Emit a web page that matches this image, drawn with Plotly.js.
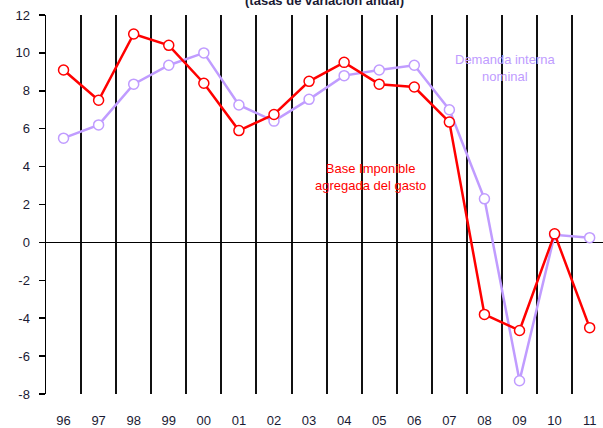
<!DOCTYPE html>
<html>
<head>
<meta charset="utf-8">
<script src="https://cdn.plot.ly/plotly-3.0.1.min.js"></script>
<style>html,body{margin:0;padding:0;overflow:hidden;background:#fff;}</style>
</head>
<body>
<div id="chart" style="width:603px;height:428px;"></div>
<script>
const years = ["96","97","98","99","00","01","02","03","04","05","06","07","08","09","10","11"];
const baseImponible = [9.1, 7.5, 11.0, 10.4, 8.4, 5.9, 6.75, 8.5, 9.5, 8.35, 8.2, 6.35, -3.8, -4.65, 0.45, -4.5];
const demandaInterna = [5.5, 6.2, 8.35, 9.35, 10.0, 7.25, 6.4, 7.55, 8.8, 9.1, 9.35, 7.0, 2.3, -7.3, 0.4, 0.25];
const yTickVals = [-8, -6, -4, -2, 0, 2, 4, 6, 8, 10, 12];
const yTickText = ["-8", "-6", "-4", "-2", "0", "2", "4", "6", "8", "10", "12"];

const idx = years.map((_, i) => i);
const bounds = years.slice(1).map((_, i) => i + 0.5);

const traces = [
  {
    x: idx, y: demandaInterna, type: 'scatter', mode: 'lines+markers',
    name: 'Demanda interna nominal',
    line: {color: '#c09cff', width: 2.5},
    marker: {symbol: 'circle', size: 10, color: '#ffffff', line: {color: '#c09cff', width: 1.5}},
    cliponaxis: false
  },
  {
    x: idx, y: baseImponible, type: 'scatter', mode: 'lines+markers',
    name: 'Base Imponible agregada del gasto',
    line: {color: '#ff0000', width: 2.5},
    marker: {symbol: 'circle', size: 10, color: '#ffffff', line: {color: '#ff0000', width: 1.5}},
    cliponaxis: false
  }
];

const layout = {
  width: 603, height: 428,
  margin: {l: 46, r: 0, t: 15, b: 34},
  paper_bgcolor: '#ffffff', plot_bgcolor: '#ffffff',
  showlegend: false,
  font: {family: 'Liberation Sans, Arial, sans-serif', size: 13, color: '#1a1a33'},
  title: {
    text: '<b>(tasas de variación anual)</b>',
    x: 0.5, xref: 'paper', xanchor: 'center',
    y: 0.988, yref: 'container', yanchor: 'bottom',
    font: {size: 13, color: '#1a1a33'}
  },
  xaxis: {
    type: 'linear', range: [-0.5, 15.38],
    tickmode: 'array', tickvals: idx, ticktext: years,
    ticks: 'outside', ticklen: 14, tickcolor: 'rgba(0,0,0,0)',
    showgrid: false, zeroline: false, showline: false,
    minor: {tickmode: 'array', tickvals: bounds, showgrid: true, gridcolor: '#111111', gridwidth: 2, ticks: ''},
    fixedrange: true
  },
  yaxis: {
    range: [-8, 12],
    tickmode: 'array', tickvals: yTickVals, ticktext: yTickText,
    ticks: 'outside', ticklen: 6, tickcolor: '#000000', tickwidth: 1.5,
    ticklabelstandoff: 6,
    showline: true, linecolor: '#000000', linewidth: 1.5,
    showgrid: false,
    zeroline: true, zerolinecolor: '#000000', zerolinewidth: 1.5,
    fixedrange: true
  },
  annotations: [
    {
      x: 12.6, y: 9.2, xref: 'x', yref: 'y',
      text: 'Demanda interna<br>nominal', showarrow: false,
      font: {size: 13, color: '#c09cff'}, align: 'center'
    },
    {
      x: 8.75, y: 3.45, xref: 'x', yref: 'y',
      text: 'Base Imponible<br>agregada del gasto', showarrow: false,
      font: {size: 13, color: '#ff0000'}, align: 'center'
    }
  ]
};

Plotly.newPlot('chart', traces, layout, {displayModeBar: false, staticPlot: true});
</script>
</body>
</html>
